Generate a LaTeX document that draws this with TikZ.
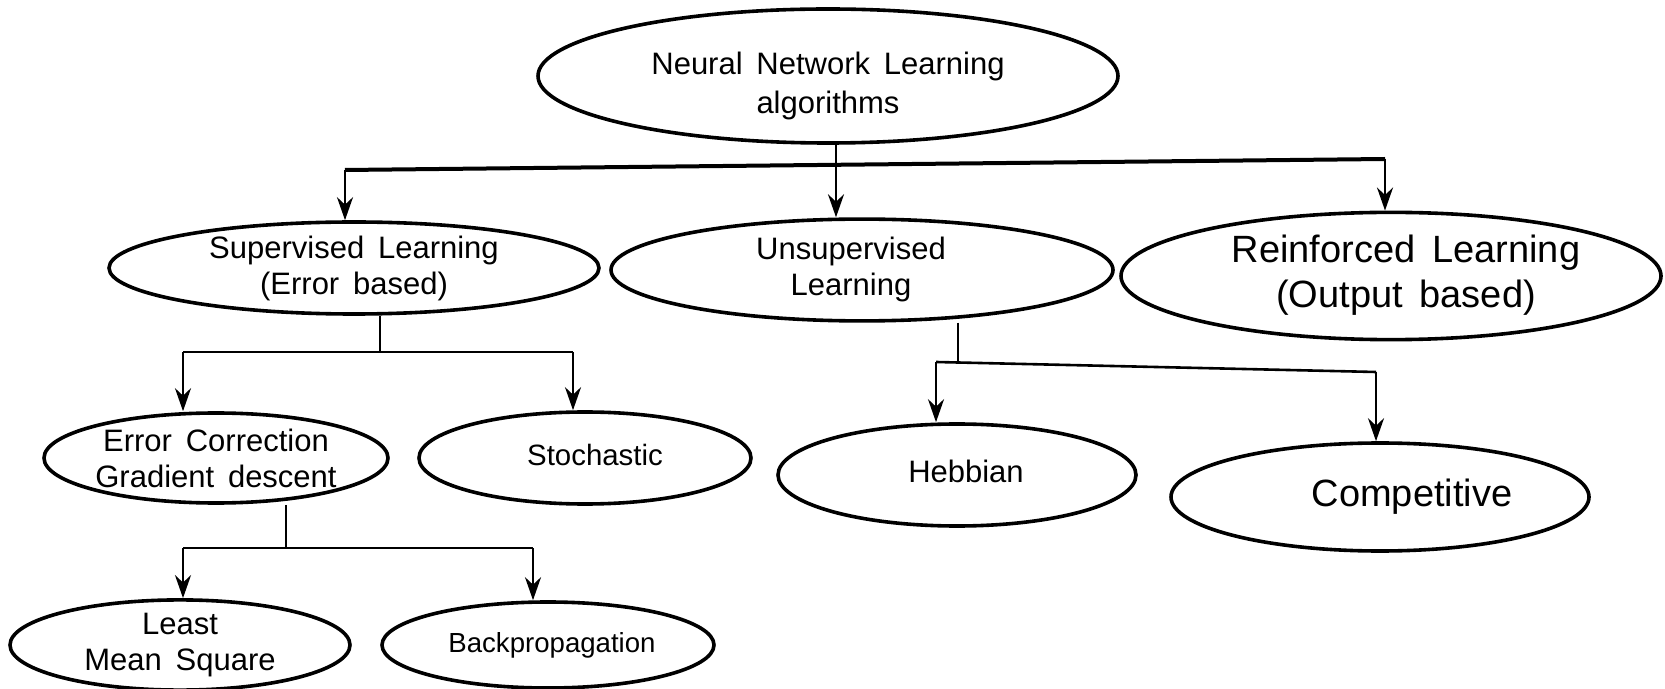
\documentclass[tikz,border=0pt]{standalone}
\usepackage{fontspec}
\setmainfont[WordSpace=1.6]{Liberation Sans}
\usetikzlibrary{arrows.meta,shapes.geometric}
\newcommand{\movetxt}[3]{\raisebox{-#2}[\height][\depth]{\hspace*{#1}%
  \begin{tabular}{@{}c@{}}#3\end{tabular}\hspace*{-#1}}}

\begin{document}
\begin{tikzpicture}[x=0.5pt,y=-0.5pt,
  every node/.style={font=\fontsize{15.5}{18}\selectfont},
  el/.style={draw,ellipse,line width=1.8pt,inner sep=0pt,align=center},
  big/.style={font=\fontsize{19}{22.5}\selectfont},
  ln/.style={line width=1.3pt},
  ar/.style={ln,-{Stealth[length=11.5pt,width=8pt]}}]
\useasboundingbox (0,0) rectangle (1665,689);
\node[el,align=none,font=\fontsize{15.5}{19.5}\selectfont,
  minimum width=290pt,minimum height=67pt] (nn) at (828,76)
  {\movetxt{0pt}{5pt}{Neural Network Learning\\ algorithms}};
\node[el,minimum width=245pt,minimum height=46pt] (sup) at (354,268)
  {Supervised Learning\\ (Error based)};
\node[el,align=none,minimum width=251pt,minimum height=50pt] (uns)
  at (862,270) {\movetxt{-5.5pt}{0pt}{Unsupervised\\ Learning}};
\node[el,big,align=none,minimum width=270pt,minimum height=56pt] (rei)
  at (1391,276) {\movetxt{7.5pt}{0pt}{Reinforced Learning\\ (Output based)}};
\node[el,minimum width=172pt,minimum height=45pt] (ec) at (216,458)
  {Error Correction\\ Gradient descent};
\node[el,font=\fontsize{14.7}{18}\selectfont,minimum width=166pt,
  minimum height=46pt] (sto) at (585,458) {\movetxt{5pt}{0pt}{Stochastic}};
\node[el,minimum width=170pt,minimum height=43pt] (lms) at (180,645)
  {Least\\ Mean Square};
\node[el,font=\fontsize{13.8}{18}\selectfont,minimum width=166pt,
  minimum height=43pt] (bp) at (548,645) {\movetxt{2pt}{0pt}{Backpropagation}};
\node[el,minimum width=179pt,minimum height=51pt] (heb) at (957,475)
  {\movetxt{4.5pt}{0pt}{Hebbian}};
\node[el,big,minimum width=209pt,minimum height=54pt] (com) at (1380,497)
  {\movetxt{16pt}{0pt}{Competitive}};
% top level
\coordinate (ta) at (345,170); \coordinate (tb) at (836,165);
\coordinate (tc) at (1385,159);
\draw[line width=2pt] (ta) -- (tc);
\draw[ar] (tb |- nn.south) -- (tb |- uns.north);
\draw[ar] (ta) -- (ta |- sup.north);
\draw[ar] (tc) -- (tc |- rei.north);
% supervised
\coordinate (s0) at (380,352);
\coordinate (sa) at (183,352); \coordinate (sb) at (573,352);
\draw[ln] (s0 |- sup.south) -- (s0);
\draw[ln] (sa) -- (sb);
\draw[ar] (sa) -- (sa |- ec.north);
\draw[ar] (sb) -- (sb |- sto.north);
% error correction
\coordinate (e0) at (286,548);
\coordinate (ea) at (183,548); \coordinate (eb) at (533,548);
\draw[ln] (e0 |- ec.south) -- (e0);
\draw[ln] (ea) -- (eb);
\draw[ar] (ea) -- (ea |- lms.north);
\draw[ar] (eb) -- (eb |- bp.north);
% unsupervised
\coordinate (u0) at (958,362);
\coordinate (ua) at (936,362); \coordinate (ub) at (1376,372);
\draw[ln] (u0 |- uns.south) -- (u0);
\draw[ln] (ua) -- (ub);
\draw[ar] (ua) -- (ua |- heb.north);
\draw[ar] (ub) -- (ub |- com.north);
\end{tikzpicture}
\end{document}
